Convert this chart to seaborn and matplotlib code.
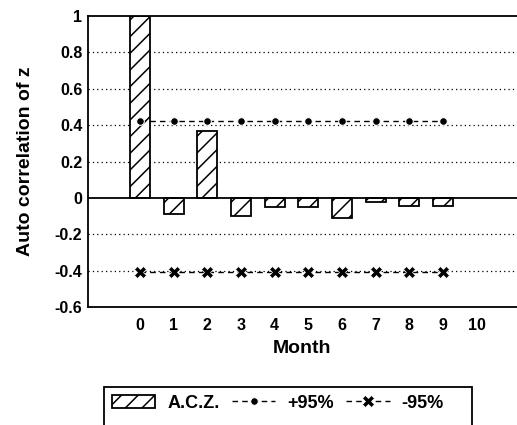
import matplotlib
matplotlib.use("Agg")
import matplotlib.pyplot as plt
import seaborn as sns
import pandas as pd
import numpy as np
from matplotlib.patches import Rectangle

months = [0, 1, 2, 3, 4, 5, 6, 7, 8, 9]
acz = [1.0, -0.09, 0.37, -0.10, -0.05, -0.05, -0.11, -0.02, -0.045, -0.045]
upper95 = [0.42] * 10
lower95 = [-0.41] * 10
tick_labels = ["0", "1", "2", "3", "4", "5", "6", "7", "8", "9", "10"]
ytick_vals = [1, 0.8, 0.6, 0.4, 0.2, 0, -0.2, -0.4, -0.6]
ytick_labels = ["1", "0.8", "0.6", "0.4", "0.2", "0", "-0.2", "-0.4", "-0.6"]

sns.set_style("white")
plt.rcParams['font.family'] = ['Liberation Sans', 'DejaVu Sans']
plt.rcParams['font.weight'] = 'bold'
plt.rcParams['hatch.linewidth'] = 1.1
plt.rcParams['text.color'] = 'black'
plt.rcParams['axes.labelcolor'] = 'black'
plt.rcParams['xtick.color'] = 'black'
plt.rcParams['ytick.color'] = 'black'

fig = plt.figure(figsize=(5.17, 4.25), dpi=100)
ax = fig.add_axes([88/517, 1-307/425, 1-88/517, (307-16)/425])

df = pd.DataFrame({"Month": months, "ACZ": acz})
sns.barplot(data=df, x="Month", y="ACZ", native_scale=True, width=0.6,
            color="white", edgecolor="black", linewidth=1.3, ax=ax,
            label="A.C.Z.")
for p in ax.patches:
    p.set_hatch("//")
    p.set_facecolor("white")
    p.set_edgecolor("black")

lines_df = pd.DataFrame({"Month": months, "up": upper95, "lo": lower95})
sns.lineplot(data=lines_df, x="Month", y="up", ax=ax, color="black",
             linestyle=(0, (4, 3)), linewidth=1.0, marker="o", markersize=5.5,
             label="+95%")
sns.lineplot(data=lines_df, x="Month", y="lo", ax=ax, color="black",
             linestyle=(0, (4, 3)), linewidth=1.0, marker="X", markersize=8,
             markeredgewidth=0.5, label="-95%")

for yv in [0.8, 0.6, 0.4, 0.2, -0.2, -0.4]:
    ax.axhline(yv, color="black", linestyle=(0, (1, 2.5)), linewidth=0.9, zorder=0)
ax.axhline(0, color="black", linewidth=1.3, zorder=3)

ax.set_xlim(-1.545, 11.2)
ax.set_ylim(-0.6, 1.0)
ax.set_yticks(ytick_vals)
ax.set_yticklabels(ytick_labels, fontsize=11.5, fontweight="bold")
ax.tick_params(axis="y", direction="out", length=4, width=1, pad=0)

ax.set_xticks(np.arange(0.5, 10, 1.0))
ax.set_xticklabels([])
ax.set_xticks(np.arange(0, 11, 1), minor=True)
ax.set_xticklabels(tick_labels, minor=True, fontsize=11.5, fontweight="bold")
ax.tick_params(axis="x", which="major", direction="out", length=5, width=1)
ax.tick_params(axis="x", which="minor", length=0, pad=8)

ax.set_xlabel("Month", fontsize=14, fontweight="bold", labelpad=5)
ax.set_ylabel("Auto correlation of z", fontsize=14, fontweight="bold", labelpad=15)

for s in ["left", "bottom", "top"]:
    ax.spines[s].set_visible(True)
    ax.spines[s].set_color("black")
    ax.spines[s].set_linewidth(1.3)
ax.spines["right"].set_visible(False)

handles, labels = ax.get_legend_handles_labels()
order = [labels.index("A.C.Z."), labels.index("+95%"), labels.index("-95%")]
handles = [handles[i] for i in order]
labels = [labels[i] for i in order]
if ax.get_legend() is not None:
    ax.get_legend().remove()

# legend frame (extends beyond the lower figure edge, as in the reference)
frame = Rectangle((104/517, -0.05), (472-104)/517, (1-387/425) + 0.05,
                  transform=fig.transFigure, facecolor="white", edgecolor="black",
                  linewidth=1.3, zorder=0)
fig.patches.append(frame)
leg = fig.legend(handles, labels, loc="center left", bbox_to_anchor=(112/517, 1-403/425),
                 ncol=3, frameon=False, fontsize=13, handlelength=2.4,
                 columnspacing=0.7, borderpad=0, borderaxespad=0, handletextpad=0.65,
                 handleheight=0.75)
for t in leg.get_texts():
    t.set_fontweight("bold")

fig.savefig("out.png", dpi=100)
